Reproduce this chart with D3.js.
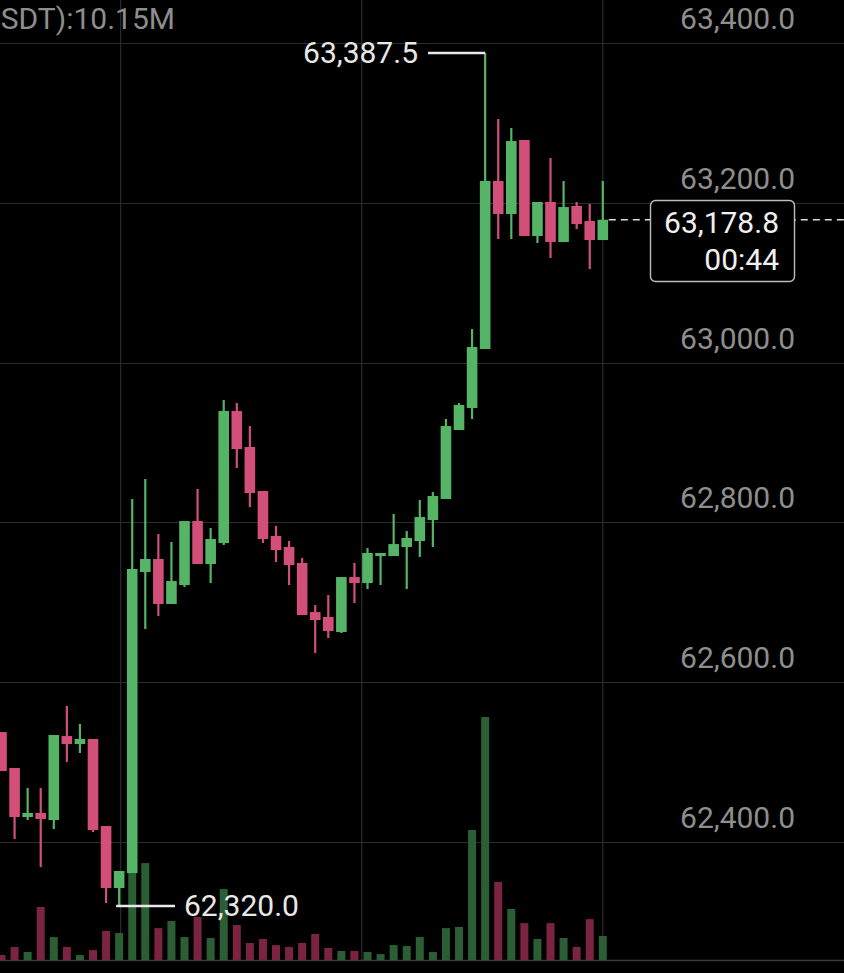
<!DOCTYPE html>
<html>
<head>
<meta charset="utf-8">
<script src="https://cdn.jsdelivr.net/npm/d3@7"></script>
<style>
  html, body { margin: 0; padding: 0; background: #000; }
  svg { display: block; }
</style>
</head>
<body>
<svg id="chart" width="844" height="973"></svg>
<script>
// ---- data (1-minute candles, index 0 = leftmost visible) ----
const opens  = [62537.6,62492.6,62431.3,62436.3,62427.5,62532.6,62522.6,62528.9,62420.0,62342.4,
                62361.2,62737.9,62754.2,62697.9,62721.6,62801.7,62747.9,62774.2,62939.4,62894.4,
                62839.3,62783.0,62769.2,62749.2,62687.8,62681.6,62662.8,62731.6,62724.1,62757.9,
                62757.9,62769.2,62776.7,62803.0,62829.3,62915.6,62943.2,63017.0,63227.3,63186.0,
                63278.6,63158.4,63201.0,63150.9,63196.0,63177.2,63153.4];
const closes = [62488.8,62431.3,62436.3,62428.8,62533.9,62522.6,62528.9,62415.0,62342.4,62363.7,
                62741.7,62754.2,62697.9,62726.6,62801.7,62747.9,62779.2,62939.4,62891.8,62836.8,
                62779.2,62765.4,62746.7,62684.1,62677.8,62664.1,62731.6,62724.1,62761.7,62761.7,
                62772.9,62780.5,62806.7,62833.0,62920.6,62947.0,63019.5,63227.3,63186.0,63277.3,
                63158.4,63201.0,63150.9,63194.7,63173.5,63153.4,63178.8];
const highs  = [62537.6,62492.6,62467.6,62467.6,62533.9,62570.2,62547.7,62528.9,62420.0,62363.7,
                62829.3,62854.3,62785.5,62775.5,62801.7,62841.8,62793.0,62953.2,62949.4,62920.6,
                62839.3,62795.5,62776.7,62755.4,62696.6,62709.1,62731.6,62749.2,62767.9,62761.7,
                62810.5,62789.2,62828.0,62838.0,62929.4,62949.4,63042.0,63387.5,63304.9,63293.6,
                63278.6,63201.0,63256.1,63227.3,63201.0,63198.5,63227.3];
const lows   = [62488.8,62403.7,62427.5,62368.7,62416.2,62500.1,62511.4,62412.5,62323.6,62320.0,
                62361.2,62666.6,62682.8,62697.9,62719.1,62747.9,62724.1,62771.7,62868.1,62819.3,
                62774.2,62750.4,62721.6,62684.1,62636.5,62655.3,62661.6,62699.1,62716.6,62721.6,
                62757.9,62716.6,62756.7,62769.2,62829.3,62915.6,62929.4,63017.0,63154.7,63154.7,
                63158.4,63149.7,63130.9,63150.9,63167.2,63117.1,63153.4];
// volume in millions of USDT
const volumes = [2.1,5.5,3.4,22.4,9.7,5.5,2.1,4.2,12.3,11.4,
                 40.2,41.0,13.5,16.5,9.7,18.2,9.3,30.0,14.8,7.2,
                 8.9,6.3,5.5,7.2,11.0,5.1,3.8,3.8,3.4,2.5,
                 6.3,5.9,9.7,3.4,13.5,14.0,55.0,102.8,33.0,21.6,
                 15.6,8.9,15.6,9.3,5.5,17.3,10.15];
const priceTicks = [62400, 62600, 62800, 63000, 63200, 63400];
const timeGridIdx = [9.12, 27.56, 46];
const volLabel = "VOL(USDT):10.15M";
const lastPrice = 63178.8;
const countdown = "00:44";
const maxPrice = 63387.5, maxIdx = 37;
const minPrice = 62320.0, minIdx = 9;

// ---- styles ----
const W = 844, H = 973;
const UP = "#55b466", DOWN = "#d24f7a";
const UPV = "#2c5e36", DOWNV = "#7a2442";
const GRID = "#2c2c2c";
const AXIS_TXT = "#8e8e8e";
const FONT = "Roboto, 'Noto Sans', sans-serif";
const FS = 30;

const svg = d3.select("#chart");
svg.append("rect").attr("width", W).attr("height", H).attr("fill", "#000");

const data = opens.map((o, i) => ({ i, o, c: closes[i], h: highs[i], l: lows[i], v: volumes[i] }));

const x = d3.scaleLinear().domain([0, 46]).range([1.5, 602.8]);
const y = d3.scaleLinear().domain([62400, 63400]).range([842, 43]);
const yv = d3.scaleLinear().domain([0, 102.8]).range([960, 717]);

// grid
const grid = svg.append("g");
grid.selectAll("line.h").data(priceTicks).join("line")
  .attr("x1", 0).attr("x2", W)
  .attr("y1", d => Math.round(y(d)) + 0.5).attr("y2", d => Math.round(y(d)) + 0.5)
  .attr("stroke", GRID).attr("stroke-width", 1.2);
grid.selectAll("line.v").data(timeGridIdx).join("line")
  .attr("x1", d => x(d)).attr("x2", d => x(d))
  .attr("y1", 0).attr("y2", 960)
  .attr("stroke", GRID).attr("stroke-width", 1.2);
// volume baseline
svg.append("line").attr("x1", 0).attr("x2", W).attr("y1", 960.5).attr("y2", 960.5)
  .attr("stroke", "#3a3a3a").attr("stroke-width", 1.5);

// axis labels (right)
const fmt = d3.format(",.1f");
svg.append("g").selectAll("text").data(priceTicks).join("text")
  .attr("x", 795).attr("y", d => y(d) - 14)
  .attr("text-anchor", "end")
  .attr("font-family", FONT).attr("font-size", FS)
  .attr("fill", AXIS_TXT)
  .text(d => fmt(d));

// top volume label (scrolled partly out of view at the left edge, as in the source)
svg.append("text").attr("x", 175).attr("y", 29).attr("text-anchor", "end")
  .attr("font-family", FONT).attr("font-size", FS).attr("fill", AXIS_TXT)
  .text(volLabel);

// volume bars
svg.append("g").selectAll("rect").data(data).join("rect")
  .attr("x", d => x(d.i) - 4).attr("width", 8)
  .attr("y", d => yv(d.v)).attr("height", d => 960 - yv(d.v))
  .attr("fill", d => d.c >= d.o ? UPV : DOWNV);

// candles
const cg = svg.append("g");
cg.selectAll("line").data(data).join("line")
  .attr("x1", d => x(d.i)).attr("x2", d => x(d.i))
  .attr("y1", d => y(d.h)).attr("y2", d => y(d.l))
  .attr("stroke", d => d.c >= d.o ? UP : DOWN).attr("stroke-width", 2.2);
cg.selectAll("rect").data(data).join("rect")
  .attr("x", d => x(d.i) - 5.3).attr("width", 10.6)
  .attr("y", d => y(Math.max(d.o, d.c)))
  .attr("height", d => Math.max(2, Math.abs(y(d.o) - y(d.c))))
  .attr("fill", d => d.c >= d.o ? UP : DOWN);

// high annotation
const ANN = "#e8e8e8";
svg.append("line").attr("x1", 428).attr("x2", x(maxIdx))
  .attr("y1", y(maxPrice)).attr("y2", y(maxPrice))
  .attr("stroke", ANN).attr("stroke-width", 2.5);
svg.append("text").attr("x", 418).attr("y", y(maxPrice) + 10)
  .attr("text-anchor", "end").attr("font-family", FONT).attr("font-size", FS)
  .attr("fill", ANN).text(fmt(maxPrice));
// low annotation
svg.append("line").attr("x1", x(minIdx) - 3).attr("x2", 175)
  .attr("y1", y(minPrice)).attr("y2", y(minPrice))
  .attr("stroke", ANN).attr("stroke-width", 2.5);
svg.append("text").attr("x", 184).attr("y", y(minPrice) + 10)
  .attr("text-anchor", "start").attr("font-family", FONT).attr("font-size", FS)
  .attr("fill", ANN).text(fmt(minPrice));

// last price dashed line + box
svg.append("line").attr("x1", x(46) + 6).attr("x2", W)
  .attr("y1", y(lastPrice)).attr("y2", y(lastPrice))
  .attr("stroke", "#dcdcdc").attr("stroke-width", 1.4).attr("stroke-dasharray", "7,5");
svg.append("rect").attr("x", 650.5).attr("y", 200.5).attr("width", 144).attr("height", 81)
  .attr("rx", 5).attr("fill", "#000").attr("stroke", "#bdbdbd").attr("stroke-width", 1.4);
svg.append("text").attr("x", 779).attr("y", 233).attr("text-anchor", "end")
  .attr("font-family", FONT).attr("font-size", FS).attr("fill", "#f0f0f0").text(fmt(lastPrice));
svg.append("text").attr("x", 779).attr("y", 270).attr("text-anchor", "end")
  .attr("font-family", FONT).attr("font-size", FS).attr("fill", "#f0f0f0").text(countdown);
</script>
</body>
</html>
